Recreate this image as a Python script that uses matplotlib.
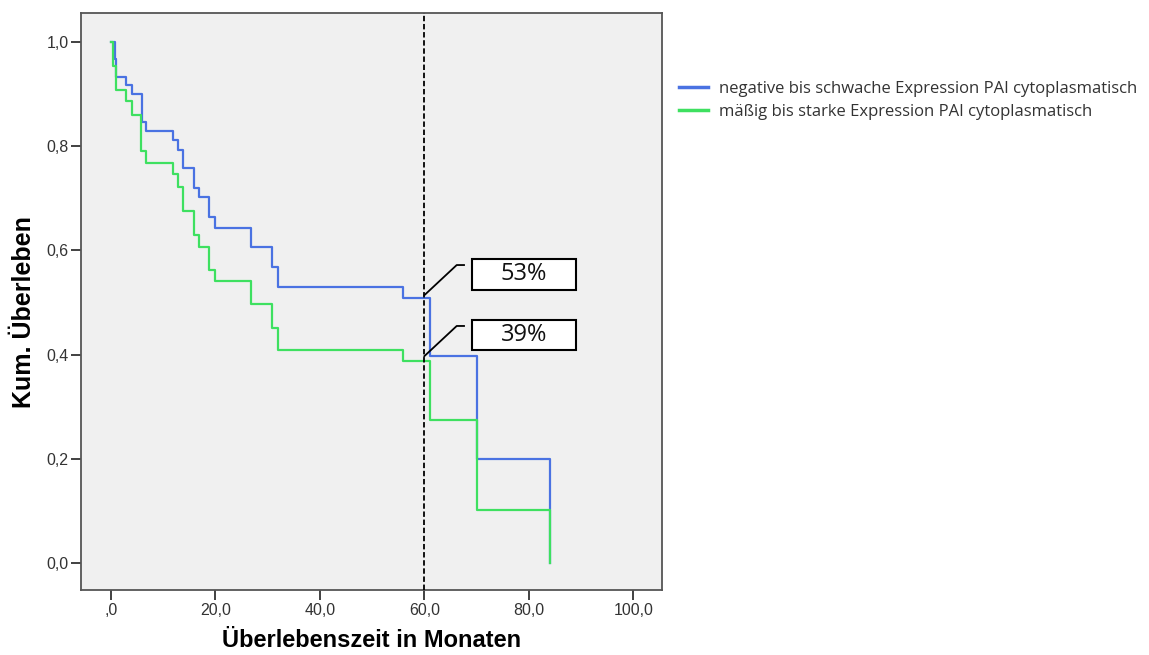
import matplotlib

matplotlib.use("Agg")
import matplotlib.pyplot as plt
from matplotlib.lines import Line2D
from matplotlib.patches import Rectangle

# Kaplan-Meier Stufen (Monate, kumulatives Überleben)
blue_t = [0, 0.8, 0.9, 2.8, 4.0, 5.9, 6.8, 11.9, 12.9, 13.8, 15.9, 16.8, 18.8,
          19.9, 26.9, 30.9, 32.0, 56.0, 61.0, 70.0, 84.0]
blue_s = [1.0, 0.967, 0.933, 0.917, 0.900, 0.847, 0.829, 0.812, 0.793, 0.758,
          0.719, 0.702, 0.664, 0.644, 0.607, 0.568, 0.529, 0.508, 0.398, 0.199, 0.0]

green_t = [0, 0.4, 0.9, 2.8, 4.0, 5.7, 6.8, 11.8, 12.9, 13.8, 15.9, 16.8, 18.8,
           19.9, 26.9, 30.9, 31.9, 56.0, 61.0, 70.0, 84.0]
green_s = [1.0, 0.955, 0.908, 0.887, 0.861, 0.791, 0.767, 0.747, 0.722, 0.676,
           0.630, 0.607, 0.562, 0.541, 0.497, 0.452, 0.409, 0.388, 0.274, 0.102, 0.0]

labels = ["negative bis schwache Expression PAI cytoplasmatisch",
          "mäßig bis starke Expression PAI cytoplasmatisch"]
BLUE = "#4a72e2"
GREEN = "#3ee060"

cutoff = 60
rates = ["53%", "39%"]
rate_y = [0.514, 0.397]  # Schnittpunkt der Kurven bei 60 Monaten

xticks = [0, 20, 40, 60, 80, 100]
xticklabels = [",0", "20,0", "40,0", "60,0", "80,0", "100,0"]
yticks = [0.0, 0.2, 0.4, 0.6, 0.8, 1.0]
yticklabels = ["0,0", "0,2", "0,4", "0,6", "0,8", "1,0"]

plt.rcParams["font.family"] = ["Liberation Sans", "DejaVu Sans"]

fig = plt.figure(figsize=(11.49, 6.55), dpi=100)
ax = fig.add_axes([0.0705, 0.0992, 0.5056, 0.881])
ax.set_facecolor("#f0f0f0")

ax.step(blue_t, blue_s, where="post", color=BLUE, lw=1.6, zorder=3)
ax.step(green_t, green_s, where="post", color=GREEN, lw=1.6, zorder=4)
ax.axvline(cutoff, color="black", lw=1.3, ls=(0, (3, 1.5)), zorder=5)

# Beschriftungen 53% / 39%
for txt, yv in zip(rates, rate_y):
    ky = yv + 0.058
    ax.plot([cutoff, 66.2, 67.6], [yv, ky, ky], color="black", lw=1.3, zorder=6)
    ax.add_patch(Rectangle((69.1, ky - 0.047), 20.0, 0.059, facecolor="white",
                           edgecolor="black", lw=1.5, zorder=6))
    ax.text(79.1, ky - 0.0175, txt, ha="center", va="center", fontsize=17,
            family=["Open Sans", "DejaVu Sans"], color="#111111", zorder=7)

ax.set_xlim(-5.74, 105.5)
ax.set_ylim(-0.052, 1.056)
ax.set_xticks(xticks)
ax.set_xticklabels(xticklabels)
ax.set_yticks(yticks)
ax.set_yticklabels(yticklabels)
ax.tick_params(direction="out", length=7, width=1.3, color="#333333",
               labelsize=11.5, labelcolor="#333333", pad=2)
for sp in ax.spines.values():
    sp.set_color("#555555")
    sp.set_linewidth(1.3)

ax.set_xlabel("Überlebenszeit in Monaten", fontsize=17, fontweight="bold",
              labelpad=8)
ax.set_ylabel("Kum. Überleben", fontsize=18, fontweight="bold")
ax.yaxis.set_label_coords(-0.077, 0.482)

handles = [Line2D([], [], color=BLUE, lw=2.5), Line2D([], [], color=GREEN, lw=2.5)]
fig.legend(handles, labels, loc="upper left", bbox_to_anchor=(0.591, 0.877),
           frameon=False, prop={"family": "Open Sans", "size": 12},
           handlelength=1.75, handletextpad=0.65, labelspacing=0.45,
           borderpad=0, borderaxespad=0, labelcolor="#333333")

fig.savefig("out.png", dpi=100)
